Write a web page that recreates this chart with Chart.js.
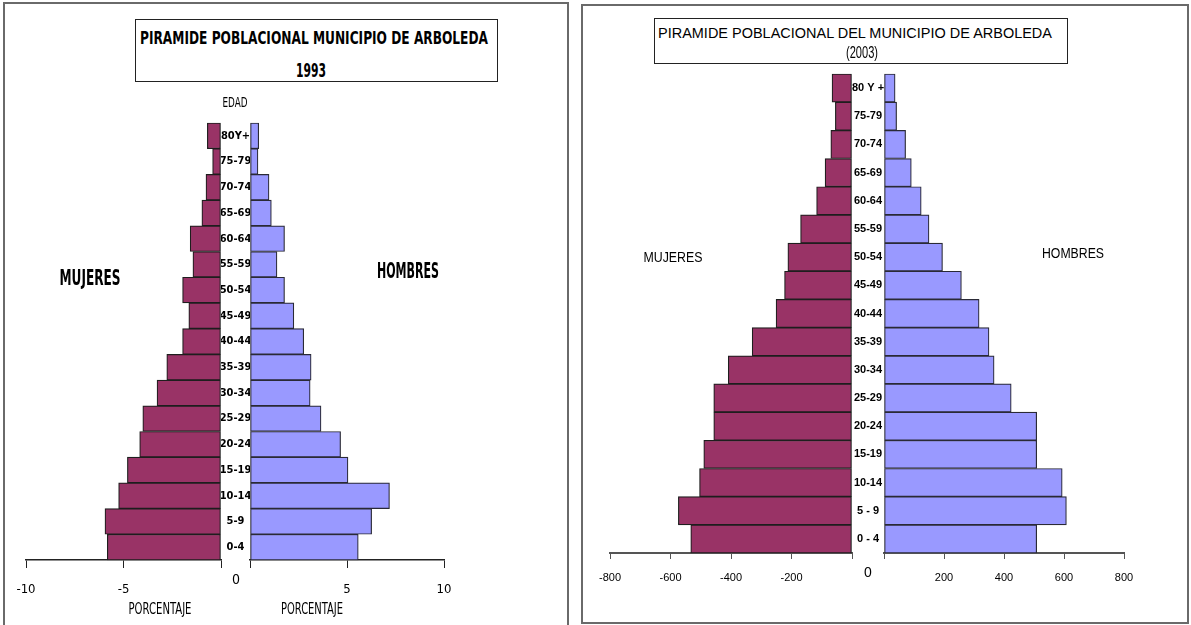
<!DOCTYPE html>
<html>
<head>
<meta charset="utf-8">
<script src="https://cdn.jsdelivr.net/npm/chart.js@4"></script>
<style>
  html,body{margin:0;padding:0;background:#fff;}
  body{position:relative;width:1191px;height:625px;overflow:hidden;}
  canvas{position:absolute;}
  .frame{position:absolute;border:2px solid #6a6a6a;box-sizing:border-box;}
  .tbox{position:absolute;border:1px solid #222;box-sizing:border-box;background:#fff;}
  .t{position:absolute;white-space:nowrap;line-height:1;color:#000;}
</style>
</head>
<body>
<div class="frame" style="left:3px;top:2px;width:566px;height:640px;"></div>
<div class="frame" style="left:581px;top:4px;width:608px;height:620px;"></div>
<div class="tbox" style="left:135px;top:19px;width:363px;height:63px;"></div>
<div class="tbox" style="left:654px;top:18px;width:414px;height:46px;"></div>

<canvas id="w1" width="213" height="487" style="left:10px;top:113px;"></canvas>
<canvas id="m1" width="239" height="487" style="left:221px;top:113px;"></canvas>
<canvas id="w2" width="264" height="529" style="left:590px;top:64px;"></canvas>
<canvas id="m2" width="292" height="529" style="left:852px;top:64px;"></canvas>

<script>
// ---------- DATA ----------
const edades1993 = ['80Y+','75-79','70-74','65-69','60-64','55-59','50-54','45-49','40-44','35-39','30-34','25-29','20-24','15-19','10-14','5-9','0-4'];
const mujeres1993 = [0.7, 0.43, 0.77, 0.98, 1.58, 1.44, 1.97, 1.65, 1.97, 2.78, 3.28, 4.01, 4.17, 4.80, 5.25, 5.95, 5.83];
const hombres1993 = [0.45, 0.41, 0.98, 1.10, 1.78, 1.39, 1.78, 2.26, 2.77, 3.15, 3.10, 3.66, 4.67, 5.05, 7.19, 6.27, 5.58];

const edades2003 = ['80 Y +','75-79','70-74','65-69','60-64','55-59','50-54','45-49','40-44','35-39','30-34','25-29','20-24','15-19','10-14','5 - 9','0 - 4'];
const mujeres2003 = [66, 55, 70, 89, 117, 170, 212, 223, 251, 330, 409, 457, 457, 490, 504, 574, 533];
const hombres2003 = [37, 42, 72, 91, 124, 150, 195, 258, 317, 350, 367, 424, 509, 509, 594, 608, 509];

// ---------- STYLE ----------
const WOMEN_FILL = '#993366', WOMEN_BORDER = '#1e1e1e';
const MEN_FILL = '#9999ff', MEN_BORDER = '#2a2a36';
const NARROW = "'DejaVu Sans Condensed',sans-serif";
const SANS = "'Liberation Sans',Arial,sans-serif";

function measure(text, font) {
  const c = document.createElement('canvas').getContext('2d');
  c.font = font;
  return c.measureText(text).width;
}

function txt(s, cx, cy, font, w) {
  const d = document.createElement('div');
  d.className = 't';
  d.textContent = s;
  d.style.left = cx + 'px';
  d.style.top = cy + 'px';
  d.style.font = font;
  document.body.appendChild(d);
  let k = 1;
  if (w) k = w / d.getBoundingClientRect().width;
  d.style.transform = 'translate(-50%,-50%) scaleX(' + k + ')';
}

function halfChart(id, labels, values, opts) {
  const isMen = opts.side === 'men';
  const xScale = {
    type: 'linear',
    min: opts.min, max: opts.max,
    ticks: {
      stepSize: opts.step,
      color: '#000',
      padding: opts.tickPad,
      font: opts.tickFont,
      callback: v => (v === 0 ? '' : String(v))
    },
    grid: { drawOnChartArea: false, drawTicks: true, tickLength: opts.tickLen, color: opts.axisColor, lineWidth: 1 },
    border: { display: true, color: opts.axisColor, width: opts.axisWidth },
    afterFit: s => { s.height = 40; s.paddingLeft = 0; s.paddingRight = 0; }
  };
  let yScale;
  if (isMen) {
    const fstr = (opts.catFont.weight || 'normal') + ' ' + opts.catFont.size + 'px ' + opts.catFont.family;
    const widest = Math.max(...labels.map(l => measure(l, fstr)));
    yScale = {
      type: 'category', offset: true,
      grid: { display: false, drawTicks: false },
      border: { display: false },
      ticks: { autoSkip: false, crossAlign: 'center', color: '#000', font: opts.catFont,
               padding: opts.gap / 2 - widest / 2 },
      afterFit: s => { s.width = opts.gap; }
    };
  } else {
    yScale = { type: 'category', offset: true, display: false };
  }
  return new Chart(document.getElementById(id), {
    type: 'bar',
    data: {
      labels: labels,
      datasets: [{
        data: isMen ? values : values.map(v => -v),
        backgroundColor: isMen ? MEN_FILL : WOMEN_FILL,
        borderColor: isMen ? MEN_BORDER : WOMEN_BORDER,
        borderWidth: 1.2,
        borderSkipped: false,
        barPercentage: 1,
        categoryPercentage: 1,
        clip: false
      }]
    },
    options: {
      indexAxis: 'y',
      responsive: false,
      animation: false,
      layout: { padding: opts.padding },
      plugins: { legend: { display: false }, tooltip: { enabled: false }, title: { display: false } },
      scales: { x: xScale, y: yScale }
    }
  });
}

// ---------- 1993 ----------
const f93tick = { family: NARROW, size: 13 };
const f93cat = { family: NARROW, size: 11, weight: 'bold' };
halfChart('w1', edades1993, mujeres1993, { side: 'women', min: -10, max: 0, step: 5, tickLen: 8, tickPad: 14,
  tickFont: f93tick, axisColor: '#222', axisWidth: 1.5, padding: { left: 16, right: 2, top: 10, bottom: 0 } });
halfChart('m1', edades1993, hombres1993, { side: 'men', min: 0, max: 10, step: 5, tickLen: 8, tickPad: 14,
  tickFont: f93tick, catFont: f93cat, gap: 29, axisColor: '#222', axisWidth: 1.5,
  padding: { left: 0, right: 16, top: 10, bottom: 0 } });

// ---------- 2003 ----------
const f03tick = { family: SANS, size: 11 };
const f03cat = { family: SANS, size: 11, weight: 'bold' };
halfChart('w2', edades2003, mujeres2003, { side: 'women', min: -800, max: 0, step: 200, tickLen: 6, tickPad: 12,
  tickFont: f03tick, axisColor: '#555', axisWidth: 2, padding: { left: 20, right: 2, top: 10, bottom: 0 } });
halfChart('m2', edades2003, hombres2003, { side: 'men', min: 0, max: 800, step: 200, tickLen: 6, tickPad: 12,
  tickFont: f03tick, catFont: f03cat, gap: 32, axisColor: '#555', axisWidth: 2,
  padding: { left: 0, right: 20, top: 10, bottom: 0 } });

// ---------- TEXT ----------
txt('PIRAMIDE POBLACIONAL MUNICIPIO DE ARBOLEDA', 314, 38, "bold 17px 'DejaVu Sans'", 348);
txt('1993', 311, 70, "bold 19px 'DejaVu Sans'", 30);
txt('EDAD', 235, 102, "14px " + NARROW, 25);
txt('MUJERES', 90, 277, "bold 22px 'DejaVu Sans Condensed'", 61);
txt('HOMBRES', 408, 270, "bold 22px 'DejaVu Sans Condensed'", 62);
txt('0', 236, 579, "14px " + NARROW);
txt('PORCENTAJE', 160, 609, "15px " + NARROW, 63);
txt('PORCENTAJE', 312, 609, "15px " + NARROW, 62);

txt('PIRAMIDE POBLACIONAL DEL MUNICIPIO DE ARBOLEDA', 855, 32, "15px " + SANS, 394);
txt('(2003)', 862, 53, "16px " + SANS, 32);
txt('MUJERES', 673, 257, "14px " + SANS, 59);
txt('HOMBRES', 1073, 253, "14px " + SANS, 62);
txt('0', 868, 572, "14px " + SANS);
</script>
</body>
</html>
